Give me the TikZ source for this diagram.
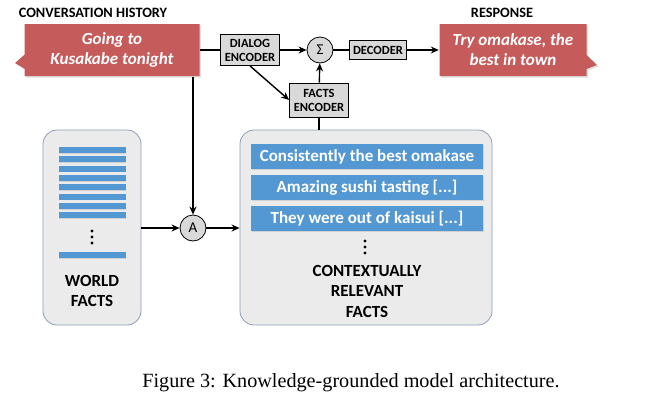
\documentclass[tikz,border=0pt]{standalone}
\usepackage{fontspec}
\setmainfont{Carlito}
\newfontfamily\capfont{Liberation Serif}
\usetikzlibrary{arrows.meta}
\usetikzlibrary{shapes.callouts}
\usetikzlibrary{shadows}

\definecolor{bubblered}{HTML}{C65B5B}
\definecolor{factblue}{HTML}{5397D3}
\definecolor{encgrey}{HTML}{D9D9D9}
\definecolor{panelgrey}{HTML}{EBEBEB}
\definecolor{panelline}{HTML}{8E9EB6}

\tikzset{
  >={Stealth[length=8pt,width=7pt]},
  heading/.style={font=\fontsize{14.3}{16}\selectfont\bfseries},
  bubble/.style={rectangle callout, fill=bubblered, text=white, align=center,
    font=\fontsize{17}{20}\selectfont\bfseries\itshape,
    minimum width=175pt, minimum height=52pt, callout pointer width=14pt,
    drop shadow={opacity=0.25, shadow xshift=1.5pt, shadow yshift=-1.5pt}},
  encbox/.style={draw, line width=0.8pt, fill=encgrey, align=center, inner sep=1pt,
    font=\fontsize{12.5}{14}\selectfont\bfseries, minimum width=59pt},
  opcircle/.style={circle, draw, line width=0.8pt, fill=encgrey, minimum size=26pt,
    inner sep=0pt, font=\fontsize{15}{17}\selectfont},
  panel/.style={draw=panelline, line width=0.8pt, fill=panelgrey, rounded corners=14pt,
    minimum height=195pt},
  factbar/.style={fill=factblue, text=white, minimum width=232pt, minimum height=25pt,
    inner sep=0pt, font=\fontsize{17}{19}\selectfont\bfseries,
    drop shadow={opacity=0.25, shadow xshift=1pt, shadow yshift=-1pt}},
  worldbar/.style={fill=factblue, minimum width=67pt, minimum height=6pt, inner sep=0pt,
    drop shadow={opacity=0.25, shadow xshift=0.8pt, shadow yshift=-0.8pt}},
  dot/.style={circle, fill=black, minimum size=3.2pt, inner sep=0pt},
  panellabel/.style={align=center, font=\fontsize{17}{20.5}\selectfont\bfseries}
}

\begin{document}
\begin{tikzpicture}[x=1pt, y=-1pt, line width=1.4pt]
\useasboundingbox (0,0) rectangle (651,408);
% headings
\node[heading] (histlabel) at (93,13) {CONVERSATION HISTORY};
\node[heading] (resplabel) at (502,13) {RESPONSE};
% speech bubbles
\node[bubble, callout absolute pointer={(15,63)}] (hist) at (112,50) {Going to\\Kusakabe tonight};
\node[bubble, minimum width=147pt, callout absolute pointer={(597,65)}] (resp) at (513,50) {Try omakase, the\\best in town};
% encoders and decoder
\node[encbox, minimum height=31pt] (dialog) at (250,50) {DIALOG\\ENCODER};
\node[encbox, minimum height=34pt] (factsenc) at (319,100) {FACTS\\ENCODER};
\node[encbox, minimum width=57pt, minimum height=19pt] (decoder) at (378,50) {DECODER};
\node[opcircle] (sum) at (320,50) {Σ};
\node[opcircle] (attn) at (193,228) {A};
% panels
\node[panel, minimum width=98pt] (world) at (92,227.5) {};
\node[panel, minimum width=252pt] (ctx) at (366,227.5) {};
% world facts
\foreach \i in {0,...,7}
  \node[worldbar] (wbar\i) at (92,{150+9.3*\i}) {};
\node[worldbar] (wbarlast) at (92,255) {};
\foreach \j in {0,1,2}
  \node[dot] (wdot\j) at (92,{231+6*\j}) {};
\node[panellabel] (worldlabel) at (92,291) {WORLD\\FACTS};
% contextually relevant facts
\node[factbar] (fact1) at (367,156.5) {Consistently the best omakase};
\node[factbar] (fact2) at (367,187.5) {Amazing sushi tasting [...]};
\node[factbar] (fact3) at (367,218.5) {They were out of kaisui [...]};
\foreach \j in {0,1,2}
  \node[dot] (cdot\j) at (365,{241+6*\j}) {};
\node[panellabel] (ctxlabel) at (367,291) {CONTEXTUALLY\\RELEVANT\\FACTS};
% draws connectors
\draw (hist.east) -- (dialog.west);
\draw[->] (dialog) -- (sum);
\draw (sum) -- (decoder);
\draw[->] (decoder) -- (resp.west);
\draw[->] (dialog.south) -- (factsenc.west);
\draw[->] (factsenc) -- (sum);
\draw (factsenc.south) -- (factsenc.south |- ctx.north);
\draw[->] (hist.south -| attn.north) -- (attn.north);
\draw[->] (world.east |- attn) -- (attn);
\draw[->] (attn) -- (ctx.west |- attn);
% caption
\node[font=\capfont\fontsize{20.2}{22}\selectfont] (caption) at (351,383) {Figure 3: Knowledge-grounded model architecture.};
\end{tikzpicture}
\end{document}
